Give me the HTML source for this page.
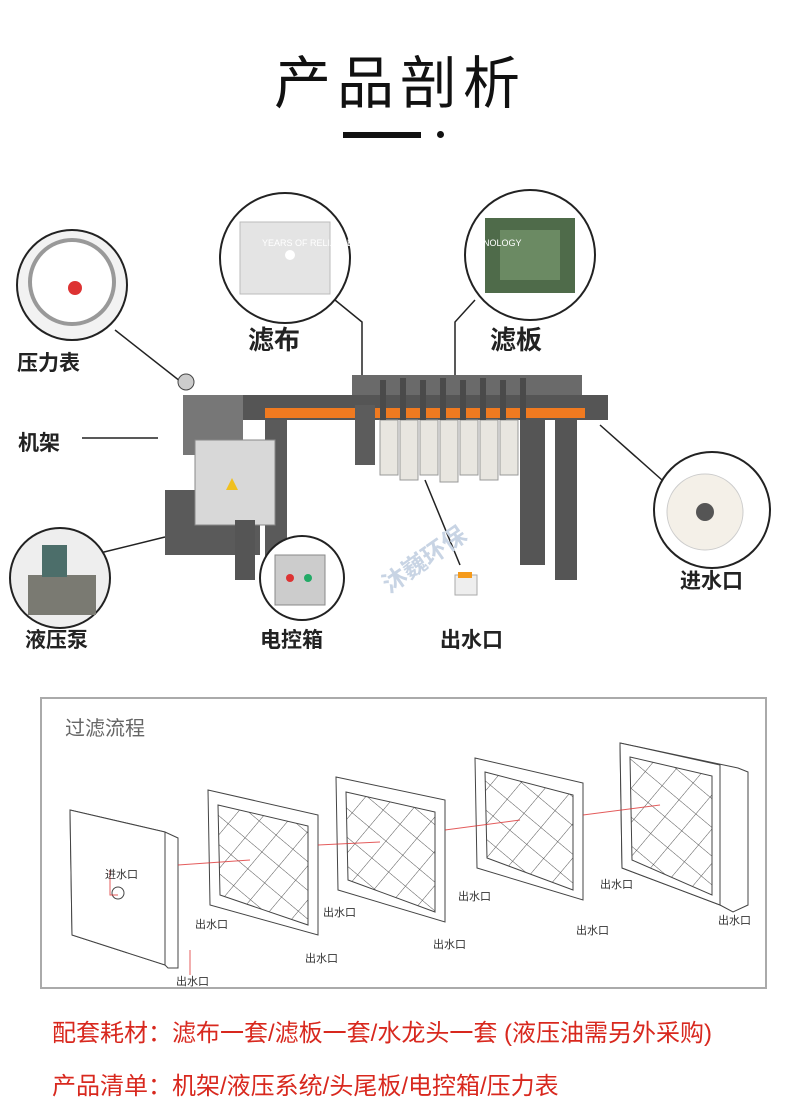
<!DOCTYPE html>
<html><head><meta charset="utf-8"><style>
html,body{margin:0;padding:0;background:#fff;}
body{width:800px;height:1100px;position:relative;overflow:hidden;font-family:"Liberation Sans","Noto Sans CJK SC",sans-serif;}
.t{position:absolute;white-space:nowrap;}
.lb{font-weight:bold;font-size:21px;color:#222;}
.red{color:#d8281e;font-size:24px;}
</style></head><body>
<div class="t" style="left:0;width:800px;text-align:center;top:38px;font-size:57px;color:#111;letter-spacing:6px;">产品剖析</div>
<div class="t" style="left:343px;top:132px;width:78px;height:6px;background:#111;"></div>
<div class="t" style="left:437px;top:131px;width:7px;height:7px;background:#111;border-radius:50%;"></div>

<svg width="800" height="700" style="position:absolute;left:0;top:0">
<g stroke="#222" stroke-width="1.5" fill="none">
<line x1="115" y1="330" x2="185" y2="385"/>
<line x1="82" y1="438" x2="158" y2="438"/>
<polyline points="335,300 362,322 362,385"/>
<polyline points="475,300 455,322 455,380"/>
<line x1="600" y1="425" x2="662" y2="480"/>
<line x1="100" y1="553" x2="165" y2="537"/>
<line x1="235" y1="450" x2="290" y2="545"/>
<line x1="425" y1="480" x2="460" y2="565"/>
</g>
<rect x="352" y="375" width="230" height="30" fill="#6a6a6a"/>
<rect x="183" y="395" width="425" height="25" fill="#555"/>
<rect x="265" y="408" width="320" height="10" fill="#f07a20"/>
<rect x="183" y="395" width="60" height="60" fill="#777"/>
<rect x="265" y="420" width="22" height="160" fill="#5a5a5a"/>
<rect x="355" y="405" width="20" height="60" fill="#5c5c5c"/>
<rect x="520" y="420" width="25" height="145" fill="#555"/>
<rect x="555" y="420" width="22" height="160" fill="#555"/>
<g fill="#e8e6e0" stroke="#999">
<rect x="380" y="420" width="18" height="55"/><rect x="400" y="420" width="18" height="60"/>
<rect x="420" y="420" width="18" height="55"/><rect x="440" y="420" width="18" height="62"/>
<rect x="460" y="420" width="18" height="55"/><rect x="480" y="420" width="18" height="60"/>
<rect x="500" y="420" width="18" height="55"/>
</g>
<g fill="#4a4a4a"><rect x="380" y="380" width="6" height="40"/><rect x="400" y="378" width="6" height="42"/><rect x="420" y="380" width="6" height="40"/><rect x="440" y="378" width="6" height="42"/><rect x="460" y="380" width="6" height="40"/><rect x="480" y="378" width="6" height="42"/><rect x="500" y="380" width="6" height="40"/><rect x="520" y="378" width="6" height="42"/></g>
<rect x="165" y="490" width="95" height="65" fill="#5a5a5a"/>
<rect x="195" y="440" width="80" height="85" fill="#d8d8d8" stroke="#888"/>
<polygon points="232,478 226,490 238,490" fill="#f0c020"/>
<rect x="235" y="520" width="20" height="60" fill="#555"/>
<circle cx="186" cy="382" r="8" fill="#ccc" stroke="#444"/>
<circle cx="72" cy="285" r="55" fill="#f2f2f2" stroke="#222" stroke-width="2"/>
<circle cx="72" cy="282" r="42" fill="#fff" stroke="#999" stroke-width="4"/>
<circle cx="75" cy="288" r="7" fill="#d33"/>
<circle cx="285" cy="258" r="65" fill="#fff" stroke="#222" stroke-width="2"/>
<rect x="240" y="222" width="90" height="72" fill="#e4e4e4" stroke="#bbb"/>
<circle cx="290" cy="255" r="5" fill="#fff"/>
<circle cx="530" cy="255" r="65" fill="#fff" stroke="#222" stroke-width="2"/>
<rect x="485" y="218" width="90" height="75" fill="#4f6b4a"/>
<rect x="500" y="230" width="60" height="50" fill="#6b8a63"/>
<circle cx="712" cy="510" r="58" fill="#fff" stroke="#222" stroke-width="2"/>
<circle cx="705" cy="512" r="38" fill="#f4f0e8" stroke="#ccc"/>
<circle cx="705" cy="512" r="9" fill="#555"/>
<circle cx="60" cy="578" r="50" fill="#eee" stroke="#222" stroke-width="2"/>
<rect x="28" y="575" width="68" height="40" fill="#7a7a72"/>
<rect x="42" y="545" width="25" height="32" fill="#4c6e6a"/>
<circle cx="302" cy="578" r="42" fill="#fff" stroke="#222" stroke-width="2"/>
<rect x="275" y="555" width="50" height="50" fill="#ccc" stroke="#888"/>
<circle cx="290" cy="578" r="4" fill="#d33"/><circle cx="308" cy="578" r="4" fill="#2a6"/>
<rect x="455" y="575" width="22" height="20" fill="#eee" stroke="#aaa"/>
<rect x="458" y="572" width="14" height="6" fill="#f59a1a"/>
</svg>
<div class="t" style="left:262px;top:238px;font-size:9px;color:#fff;">YEARS OF RELIABLE</div>
<div class="t" style="left:470px;top:238px;font-size:9px;color:#fff;">CHNOLOGY</div>
<div class="t" style="left:375px;top:540px;font-size:24px;color:#c8d4e4;font-weight:bold;transform:rotate(-35deg);">沐巍环保</div>

<div class="t lb" style="left:17px;top:347px;">压力表</div>
<div class="t lb" style="left:18px;top:427px;">机架</div>
<div class="t lb" style="left:248px;top:320px;font-size:26px;">滤布</div>
<div class="t lb" style="left:490px;top:320px;font-size:26px;">滤板</div>
<div class="t lb" style="left:680px;top:565px;">进水口</div>
<div class="t lb" style="left:25px;top:624px;">液压泵</div>
<div class="t lb" style="left:260px;top:624px;">电控箱</div>
<div class="t lb" style="left:440px;top:624px;">出水口</div>

<div class="t" style="left:40px;top:697px;width:727px;height:292px;border:2px solid #aaa;box-sizing:border-box;"></div>
<div class="t" style="left:65px;top:712px;font-size:20px;color:#666;">过滤流程</div>
<svg width="800" height="1100" style="position:absolute;left:0;top:0">
<defs>
<pattern id="h" width="22" height="22" patternUnits="userSpaceOnUse" patternTransform="rotate(40)">
<rect width="22" height="22" fill="#fff"/><line x1="0" y1="0" x2="0" y2="22" stroke="#555" stroke-width="1"/><line x1="0" y1="0" x2="22" y2="0" stroke="#555" stroke-width="1"/></pattern>
</defs>
<g stroke="#444" stroke-width="1" fill="#fff">
<polygon points="70,810 165,832 178,838 178,968 168,968 165,965 72,935"/>
<polygon points="70,810 165,832 165,965 72,935"/>
<circle cx="118" cy="893" r="6"/>
<polygon points="208,790 318,815 318,935 210,905"/>
<polygon points="218,805 308,826 308,925 220,895" fill="url(#h)"/>
<polygon points="336,777 445,800 445,922 338,890"/>
<polygon points="346,792 435,812 435,912 348,880" fill="url(#h)"/>
<polygon points="475,758 583,783 583,900 477,868"/>
<polygon points="485,772 573,795 573,890 487,858" fill="url(#h)"/>
<polygon points="620,743 738,768 748,772 748,905 733,912 720,905 622,868"/>
<polygon points="620,743 720,765 720,905 622,868"/>
<polygon points="630,757 712,776 712,895 632,860" fill="url(#h)"/>
</g>
<g stroke="#d33" stroke-width="1" fill="none" opacity=".8">
<line x1="178" y1="865" x2="250" y2="860"/><line x1="318" y1="845" x2="380" y2="842"/><line x1="445" y1="830" x2="520" y2="820"/><line x1="583" y1="815" x2="660" y2="805"/>
<polyline points="110,870 110,895 118,895"/><line x1="190" y1="950" x2="190" y2="975"/>
</g>
<g font-size="11" fill="#333" font-family="Liberation Sans,Noto Sans CJK SC,sans-serif">
<text x="105" y="878">进水口</text>
<text x="176" y="985">出水口</text>
<text x="195" y="928">出水口</text>
<text x="305" y="962">出水口</text>
<text x="323" y="916">出水口</text>
<text x="433" y="948">出水口</text>
<text x="458" y="900">出水口</text>
<text x="576" y="934">出水口</text>
<text x="600" y="888">出水口</text>
<text x="718" y="924">出水口</text>
</g>
</svg>
<div class="t red" style="left:52px;top:1013px;">配套耗材：滤布一套/滤板一套/水龙头一套 (液压油需另外采购)</div>
<div class="t red" style="left:52px;top:1066px;">产品清单：机架/液压系统/头尾板/电控箱/压力表</div>
</body></html>
